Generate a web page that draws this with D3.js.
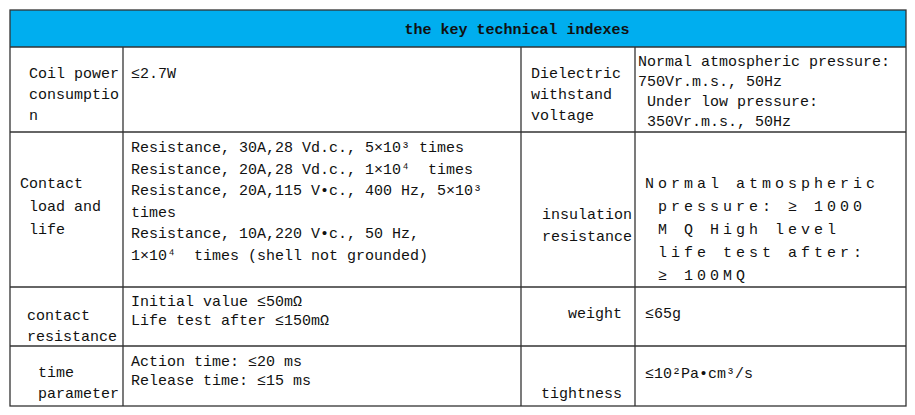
<!DOCTYPE html>
<html><head><meta charset="utf-8">
<script src="https://cdn.jsdelivr.net/npm/d3@7"></script>
<style>body{margin:0;background:#fff}text{font-family:"Liberation Mono",monospace;font-size:15px;fill:#111}</style>
</head><body><svg id="c" width="915" height="415"></svg>
<script>
const title = "the key technical indexes";
const colEdges = [10, 123, 521, 635, 906];
const rowEdges = [47, 132, 287, 346, 406];
// [col, row, x offset, first baseline, line step, letterSpacing, lines]
const cells = [
  [0,0,19,78,21,0,["Coil power","consumptio","n"]],
  [1,0,8,78,21,0,["≤2.7W"]],
  [2,0,10,78,21,0,["Dielectric","withstand","voltage"]],
  [3,0,3,66,20,0,["Normal atmospheric pressure:","750Vr.m.s., 50Hz"," Under low pressure:"," 350Vr.m.s., 50Hz"]],
  [0,1,10,188,23,0,["Contact"," load and"," life"]],
  [1,1,8,152,21.5,0,["Resistance, 30A,28 Vd.c., 5×10³ times","Resistance, 20A,28 Vd.c., 1×10⁴  times","Resistance, 20A,115 V•c., 400 Hz, 5×10³","times","Resistance, 10A,220 V•c., 50 Hz,","1×10⁴  times (shell not grounded)"]],
  [2,1,21,219,22,0,["insulation","resistance"]],
  [3,1,10,188,23,4,["Normal atmospheric"," pressure: ≥ 1000"," M Q High level"," life test after:"," ≥ 100MQ"]],
  [0,2,17,320,21,0,["contact","resistance"]],
  [1,2,8,306,19,0,["Initial value ≤50mΩ","Life test after ≤150mΩ"]],
  [2,2,47,318,21,0,["weight"]],
  [3,2,10,318,21,0,["≤65g"]],
  [0,3,28,377,21,0,["time","parameter"]],
  [1,3,8,366,19,0,["Action time: ≤20 ms","Release time: ≤15 ms"]],
  [2,3,20,398,21,0,["tightness"]],
  [3,3,10,378,21,0,["≤10²Pa•cm³/s"]]
];
const svg = d3.select("#c");
svg.append("rect").attr("x",10).attr("y",10).attr("width",896).attr("height",37).attr("fill","#00aeef");
svg.append("text").attr("x",517).attr("y",34).attr("text-anchor","middle").attr("font-weight","bold").text(title);
const g = svg.append("g").attr("stroke","#333").attr("stroke-width",1.3);
g.append("rect").attr("x",10).attr("y",10).attr("width",896).attr("height",396).attr("fill","none");
rowEdges.slice(0,-1).forEach(y=>g.append("line").attr("x1",10).attr("x2",906).attr("y1",y).attr("y2",y));
colEdges.slice(1,-1).forEach(x=>g.append("line").attr("x1",x).attr("x2",x).attr("y1",47).attr("y2",406));
cells.forEach(([c,r,dx,y0,step,ls,lines])=>{
  const t = svg.append("text").attr("xml:space","preserve").style("letter-spacing",ls+"px");
  t.selectAll("tspan").data(lines).join("tspan")
    .attr("x",colEdges[c]+dx).attr("y",(d,i)=>y0+i*step).text(d=>d);
});
</script></body></html>
